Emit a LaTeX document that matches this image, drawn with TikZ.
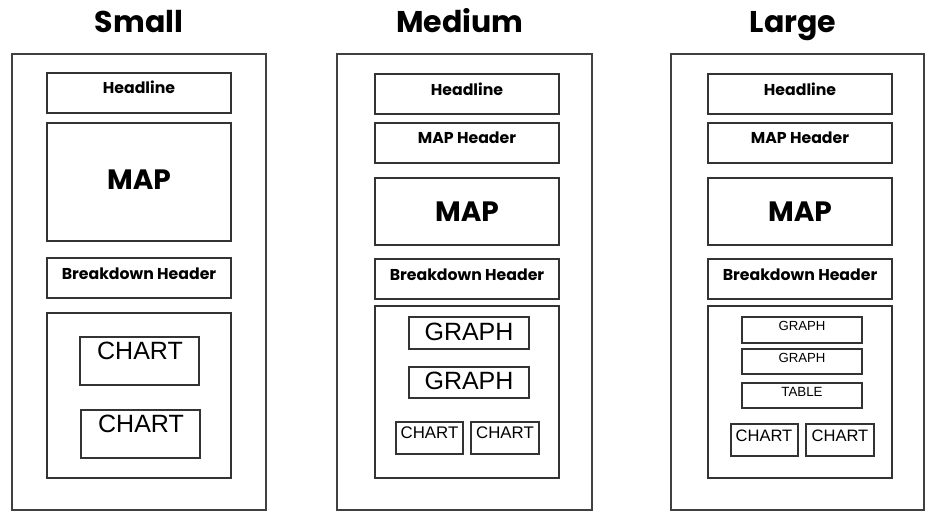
\documentclass[tikz,border=0pt]{standalone}
\usepackage{fontspec}
\setmainfont{Liberation Sans}
\newfontfamily\handfont{Poppins}
\usetikzlibrary{fit}

\tikzset{
	box/.style={draw=black!80, line width=0.8pt, inner sep=0pt},
	frame/.style={draw=black!75, line width=1pt, inner sep=0pt},
	title/.style={anchor=base, inner sep=0pt, font=\handfont\bfseries\fontsize{22.5}{24}\selectfont},
	hand/.style={anchor=base, inner sep=0pt, font=\handfont\bfseries\fontsize{11.8}{13}\selectfont},
	bigmap/.style={anchor=base, inner sep=0pt, font=\handfont\bfseries\fontsize{21}{23}\selectfont},
	arial/.style={anchor=base, inner sep=0pt, font=\fontsize{#1}{#1}\selectfont}
}

\begin{document}
\begin{tikzpicture}[x=0.75pt, y=-0.75pt]
			\useasboundingbox (0,0) rectangle (949,523);
			
			%Small layout
			\node (sT) [title] at (139,33) {Small};
			\node (sOut) [frame, fit={(12,54) (266,510)}] {};
			\node (sHead) [box, fit={(47,73) (231,113)}] {};
			\node (sHeadT) [hand] at (139,94) {Headline};
			\node (sMap) [box, fit={(47,123) (231,241)}] {};
			\node (sMapT) [bigmap] at (139,190) {MAP};
			\node (sBrk) [box, fit={(47,258) (231,298)}] {};
			\node (sBrkT) [hand] at (139,280) {Breakdown Header};
			\node (sCont) [box, fit={(47,313) (231,478)}] {};
			\node (sCh1) [box, fit={(80,337) (199,385)}] {};
			\node (sCh1T) [arial=18.75] at (140,360) {CHART};
			\node (sCh2) [box, fit={(81,410) (200,458)}] {};
			\node (sCh2T) [arial=18.75] at (141,433) {CHART};
			
			%Medium layout
			\node (mT) [title] at (460,33) {Medium};
			\node (mOut) [frame, fit={(337,54) (592,510)}] {};
			\node (mHead) [box, fit={(375,74) (559,114)}] {};
			\node (mHeadT) [hand] at (467,96) {Headline};
			\node (mMhd) [box, fit={(375,123) (559,163)}] {};
			\node (mMhdT) [hand] at (467,144) {MAP Header};
			\node (mMap) [box, fit={(375,178) (559,245)}] {};
			\node (mMapT) [bigmap] at (467,222) {MAP};
			\node (mBrk) [box, fit={(375,259) (559,299)}] {};
			\node (mBrkT) [hand] at (467,281) {Breakdown Header};
			\node (mCont) [box, fit={(375,306) (559,478)}] {};
			\node (mG1) [box, fit={(409,317) (529,349)}] {};
			\node (mG1T) [arial=18.75] at (469,341) {GRAPH};
			\node (mG2) [box, fit={(409,367) (529,398)}] {};
			\node (mG2T) [arial=18.75] at (469,390) {GRAPH};
			\node (mCa) [box, fit={(396,422) (463,454)}] {};
			\node (mCaT) [arial=12.6] at (429.5,439) {CHART};
			\node (mCb) [box, fit={(471,422) (539,454)}] {};
			\node (mCbT) [arial=12.6] at (505,439) {CHART};
			
			%Large layout
			\def\x{333}
			\node (lT) [title] at (793,33) {Large};
			\node (lOut) [frame, fit={(671,54) (924,510)}] {};
			\node (lHead) [box, fit={(375+\x,74) (559+\x,114)}] {};
			\node (lHeadT) [hand] at (467+\x,96) {Headline};
			\node (lMhd) [box, fit={(375+\x,123) (559+\x,163)}] {};
			\node (lMhdT) [hand] at (467+\x,144) {MAP Header};
			\node (lMap) [box, fit={(375+\x,178) (559+\x,245)}] {};
			\node (lMapT) [bigmap] at (467+\x,222) {MAP};
			\node (lBrk) [box, fit={(375+\x,259) (559+\x,299)}] {};
			\node (lBrkT) [hand] at (467+\x,281) {Breakdown Header};
			\node (lCont) [box, fit={(375+\x,306) (559+\x,478)}] {};
			\node (lG1) [box, fit={(742,317) (862,343)}] {};
			\node (lG1T) [arial=9.9] at (802,331) {GRAPH};
			\node (lG2) [box, fit={(742,349) (862,374)}] {};
			\node (lG2T) [arial=9.9] at (802,363) {GRAPH};
			\node (lTab) [box, fit={(742,383) (862,408)}] {};
			\node (lTabT) [arial=10] at (802,397) {TABLE};
			\node (lCa) [box, fit={(731,424) (798,456)}] {};
			\node (lCaT) [arial=12.4] at (764,442) {CHART};
			\node (lCb) [box, fit={(806,424) (874,456)}] {};
			\node (lCbT) [arial=12.4] at (840,442) {CHART};
\end{tikzpicture}
\end{document}
